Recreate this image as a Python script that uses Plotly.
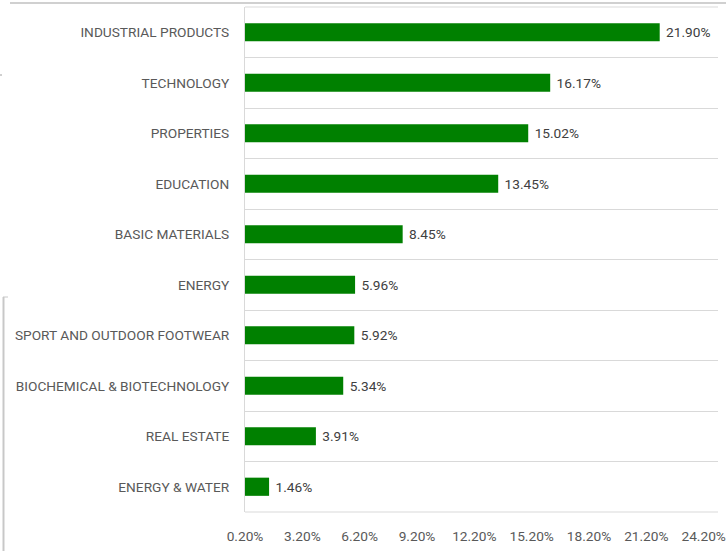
import plotly.graph_objects as go

categories = [
    "INDUSTRIAL PRODUCTS",
    "TECHNOLOGY",
    "PROPERTIES",
    "EDUCATION",
    "BASIC MATERIALS",
    "ENERGY",
    "SPORT AND OUTDOOR FOOTWEAR",
    "BIOCHEMICAL & BIOTECHNOLOGY",
    "REAL ESTATE",
    "ENERGY & WATER",
]
values = [21.90, 16.17, 15.02, 13.45, 8.45, 5.96, 5.92, 5.34, 3.91, 1.46]
tick_vals = [0.2, 3.2, 6.2, 9.2, 12.2, 15.2, 18.2, 21.2, 24.2]
tick_text = ["0.20%", "3.20%", "6.20%", "9.20%", "12.20%", "15.20%", "18.20%", "21.20%", "24.20%"]

W, H = 726, 551
L, R, T, B = 245, 718, 7, 512
FONT = "Roboto, Liberation Sans, sans-serif"
FS = 13.7

fig = go.Figure(
    go.Bar(
        x=values,
        y=categories,
        orientation="h",
        marker=dict(color="#008000", line=dict(width=0)),
        width=0.36,
        text=[f" {v:.2f}%" for v in values],
        textposition="outside",
        textfont=dict(family=FONT, size=FS, color="#404040"),
        cliponaxis=False,
    )
)

def px_x(p):
    return (p - L) / (R - L)

def px_y(p):
    return (B - p) / (B - T)

shapes = [
    # top and bottom borders of the plot area
    dict(type="line", xref="paper", yref="paper", x0=0, x1=1, y0=1, y1=1,
         line=dict(color="#d9d9d9", width=1)),
    dict(type="line", xref="paper", yref="paper", x0=0, x1=1, y0=0, y1=0,
         line=dict(color="#d9d9d9", width=1)),
    # outer frame remnants
    dict(type="line", xref="paper", yref="paper", x0=px_x(10), x1=px_x(726), y0=px_y(3), y1=px_y(3),
         line=dict(color="#d0d0d0", width=2)),
    dict(type="line", xref="paper", yref="paper", x0=px_x(3.5), x1=px_x(3.5), y0=px_y(297), y1=px_y(551),
         line=dict(color="#c8c8c8", width=2)),
    dict(type="line", xref="paper", yref="paper", x0=px_x(3), x1=px_x(8), y0=px_y(297), y1=px_y(297),
         line=dict(color="#c8c8c8", width=1)),
    dict(type="line", xref="paper", yref="paper", x0=px_x(0), x1=px_x(2), y0=px_y(75), y1=px_y(75),
         line=dict(color="#a0a0a0", width=1)),
]

fig.update_layout(
    width=W,
    height=H,
    margin=dict(l=L, r=W - R, t=T, b=H - B, pad=0),
    paper_bgcolor="white",
    plot_bgcolor="white",
    showlegend=False,
    font=dict(family=FONT, size=FS, color="#595959"),
    shapes=shapes,
    xaxis=dict(
        range=[0.2, 24.95],
        automargin=False,
        tickmode="array",
        tickvals=tick_vals,
        ticktext=tick_text,
        showgrid=False,
        zeroline=False,
        showline=False,
        ticks="outside",
        ticklen=12,
        tickcolor="rgba(0,0,0,0)",
        tickfont=dict(family=FONT, size=FS, color="#595959"),
    ),
    yaxis=dict(
        type="category",
        automargin=False,
        autorange="reversed",
        tickson="boundaries",
        showgrid=True,
        gridcolor="#d9d9d9",
        gridwidth=1,
        showline=True,
        linecolor="#d9d9d9",
        linewidth=1,
        ticks="",
        ticklabelstandoff=12,
        tickfont=dict(family=FONT, size=FS, color="#595959"),
    ),
)

fig.write_html(
    "out.html",
    config={"displayModeBar": False},
    post_script="document.body.style.margin='0';",
)
